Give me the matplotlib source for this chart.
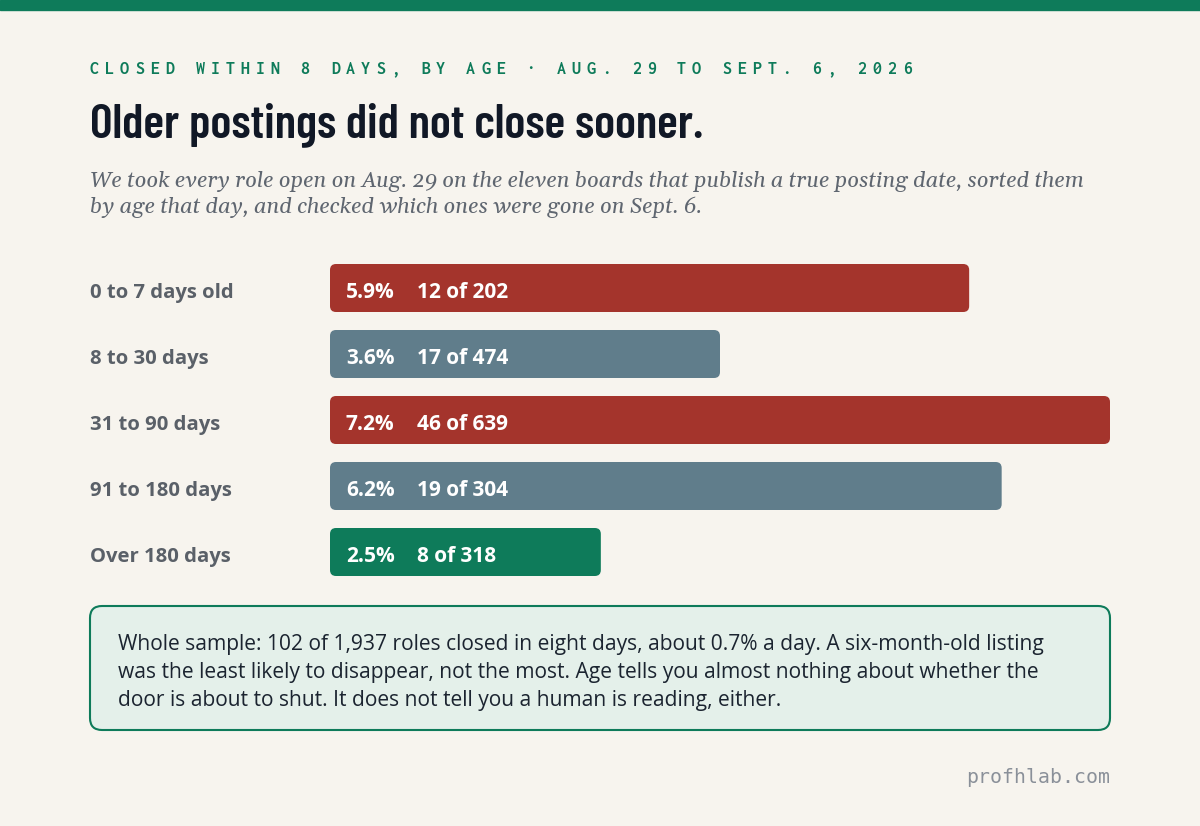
import matplotlib
matplotlib.use("Agg")
import matplotlib.pyplot as plt
from matplotlib.patches import FancyBboxPatch, Rectangle
import matplotlib.transforms as mtransforms

# data
ageGroups = ["0 to 7 days old", "8 to 30 days", "31 to 90 days", "91 to 180 days", "Over 180 days"]
closedPct = [5.9, 3.6, 7.2, 6.2, 2.5]
closedCount = [12, 17, 46, 19, 8]
totalCount = [202, 474, 639, 304, 318]
barColors = ["#a4342c", "#607d8b", "#a4342c", "#607d8b", "#0e7b5a"]

kicker = "CLOSED WITHIN 8 DAYS, BY AGE \u00b7 AUG. 29 TO SEPT. 6, 2026"
title = "Older postings did not close sooner."
subtitle = ("We took every role open on Aug. 29 on the eleven boards that publish a true posting date, sorted them\n"
            "by age that day, and checked which ones were gone on Sept. 6.")
noteLines = ["Whole sample: 102 of 1,937 roles closed in eight days, about 0.7% a day. A six-month-old listing",
             "was the least likely to disappear, not the most. Age tells you almost nothing about whether the",
             "door is about to shut. It does not tell you a human is reading, either."]
footer = "profhlab.com"

BG = "#f7f4ee"
GREEN = "#0e7b5a"
W, H = 1200, 826
MONO = ["Inconsolata", "DejaVu Sans Mono"]
SANS = ["Open Sans", "DejaVu Sans"]

fig = plt.figure(figsize=(W / 100, H / 100), dpi=100)
fig.patch.set_facecolor(BG)

# pixel helpers for the page furniture
def fx(px): return px / W
def fy(py): return 1 - py / H

# green strip along the top
fig.patches.append(Rectangle((0, fy(10)), 1, 10 / H, transform=fig.transFigure, color=GREEN, zorder=0))

# kicker, monospace with letter spacing (one char at a time)
pitch = 15.05
for i, ch in enumerate(kicker):
    fig.text(fx(90 + i * pitch), fy(74), ch, family=MONO, weight="bold",
             size=13, color=GREEN, va="baseline", ha="left")

fig.text(fx(90), fy(137), title, family=["Barlow Condensed", "DejaVu Sans"], weight="semibold",
         size=34.9, color="#111826", va="baseline")

fig.text(fx(90), fy(213), subtitle, family=["Gelasio", "DejaVu Serif"], style="italic", size=15.75,
         color="#5f6670", va="baseline", linespacing=1.27)

# bars
ax = fig.add_axes([fx(330), fy(585), fx(1110) - fx(330), (585 - 255) / H])
ax.set_xlim(0, max(closedPct))
ax.set_ylim(len(ageGroups) - 0.5, -0.5)
ax.axis("off")
barH = 48 / 66
pxPerPct = 780 / max(closedPct)
lab = mtransforms.blended_transform_factory(fig.transFigure, ax.transData)
labTrans = mtransforms.offset_copy(lab, fig=fig, x=0, y=-10 * 0.72, units="points")
pctTrans = mtransforms.offset_copy(ax.transData, fig=fig, x=16 * 0.72, y=-10 * 0.72, units="points")
cntTrans = mtransforms.offset_copy(ax.transData, fig=fig, x=87 * 0.72, y=-10 * 0.72, units="points")
for i, (pct, c) in enumerate(zip(closedPct, barColors)):
    # rounded bar; mutation_aspect keeps the corners round in pixel space
    ax.add_patch(FancyBboxPatch((0, i - barH / 2), pct, barH,
                                boxstyle="round,pad=0,rounding_size=%f" % (6 / pxPerPct),
                                mutation_aspect=pxPerPct / 66, fc=c, ec="none"))
    ax.text(0, i, f"{pct}%", transform=pctTrans, family=SANS, weight="bold", size=15,
            color="white", va="baseline")
    ax.text(0, i, f"{closedCount[i]} of {totalCount[i]}", transform=cntTrans, family=SANS,
            weight="bold", size=15, color="white", va="baseline")
    ax.text(fx(90), i, ageGroups[i], transform=labTrans, family=SANS, weight="bold", size=14.6,
            color="#5a6068", va="baseline")

# note box
fig.patches.append(FancyBboxPatch((fx(90), fy(730)), fx(1110) - fx(90), (730 - 606) / H,
                                  boxstyle="round,pad=0,rounding_size=%f" % (12 / W),
                                  mutation_aspect=W / H, transform=fig.transFigure,
                                  fc="#e4f0ea", ec=GREEN, lw=1.5))
for k, line in enumerate(noteLines):
    fig.text(fx(118), fy(650 + 28 * k), line, family=SANS, size=15.1, color="#1b2430", va="baseline")

fig.text(fx(1110), fy(783), footer, family="DejaVu Sans Mono", size=14.3, color="#8a9099",
         ha="right", va="baseline")

fig.savefig("out.png", dpi=100, facecolor=BG)
